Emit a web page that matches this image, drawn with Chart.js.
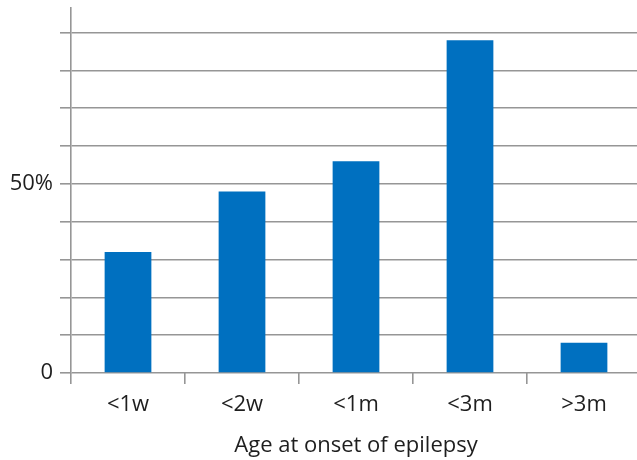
<!DOCTYPE html>
<html>
<head>
<meta charset="utf-8">
<script src="https://cdn.jsdelivr.net/npm/chart.js@4"></script>
<style>
html,body{margin:0;padding:0;overflow:hidden;background:#fff;width:637px;height:460px;}
#wrap{position:absolute;left:0;top:0;width:641px;height:460px;}
</style>
</head>
<body>
<div id="wrap"><canvas id="c" width="641" height="460"></canvas></div>
<script>
const categories = ['<1w', '<2w', '<1m', '<3m', '>3m'];
const values = [32, 48, 56, 88, 8];
const gridTicks = [0, 10, 20, 30, 40, 50, 60, 70, 80, 90];
const tickLabels = {0: '0', 50: '50%'};
const axisTitle = 'Age at onset of epilepsy';

const grey = '#969696';
const textColor = '#1e1e1e';
const fontFamily = '"Open Sans", sans-serif';

new Chart(document.getElementById('c'), {
  type: 'bar',
  data: {
    labels: categories,
    datasets: [{
      data: values,
      backgroundColor: '#0070C0',
      borderWidth: 0,
      categoryPercentage: 1,
      barPercentage: 0.41
    }]
  },
  options: {
    responsive: false,
    animation: false,
    layout: {padding: {top: 8, left: 0, right: 0, bottom: 0}},
    plugins: {legend: {display: false}, tooltip: {enabled: false}},
    scales: {
      x: {
        grid: {display: true, drawOnChartArea: false, drawTicks: true, tickLength: 11, color: grey, lineWidth: 1.6, offset: true},
        border: {display: false},
        ticks: {color: textColor, font: {family: fontFamily, size: 22}, padding: 8, maxRotation: 0},
        title: {display: true, text: axisTitle, color: textColor, font: {family: fontFamily, size: 22}, padding: {top: 0, bottom: 1}},
        afterFit: s => { s.height = 87; s.paddingLeft = 0; s.paddingRight = 0; }
      },
      y: {
        min: 0,
        max: 96.5,
        afterBuildTicks: s => { s.ticks = gridTicks.map(v => ({value: v})); },
        grid: {color: grey, lineWidth: 1.6, tickLength: 11, drawTicks: true},
        border: {display: true, color: grey, width: 1.6},
        ticks: {
          color: textColor,
          font: {family: fontFamily, size: 22},
          padding: 7,
          callback: v => (tickLabels[v] !== undefined ? tickLabels[v] : '')
        },
        afterFit: s => { s.width = 71; s.paddingTop = 0; s.paddingBottom = 0; }
      }
    }
  }
});
</script>
</body>
</html>
